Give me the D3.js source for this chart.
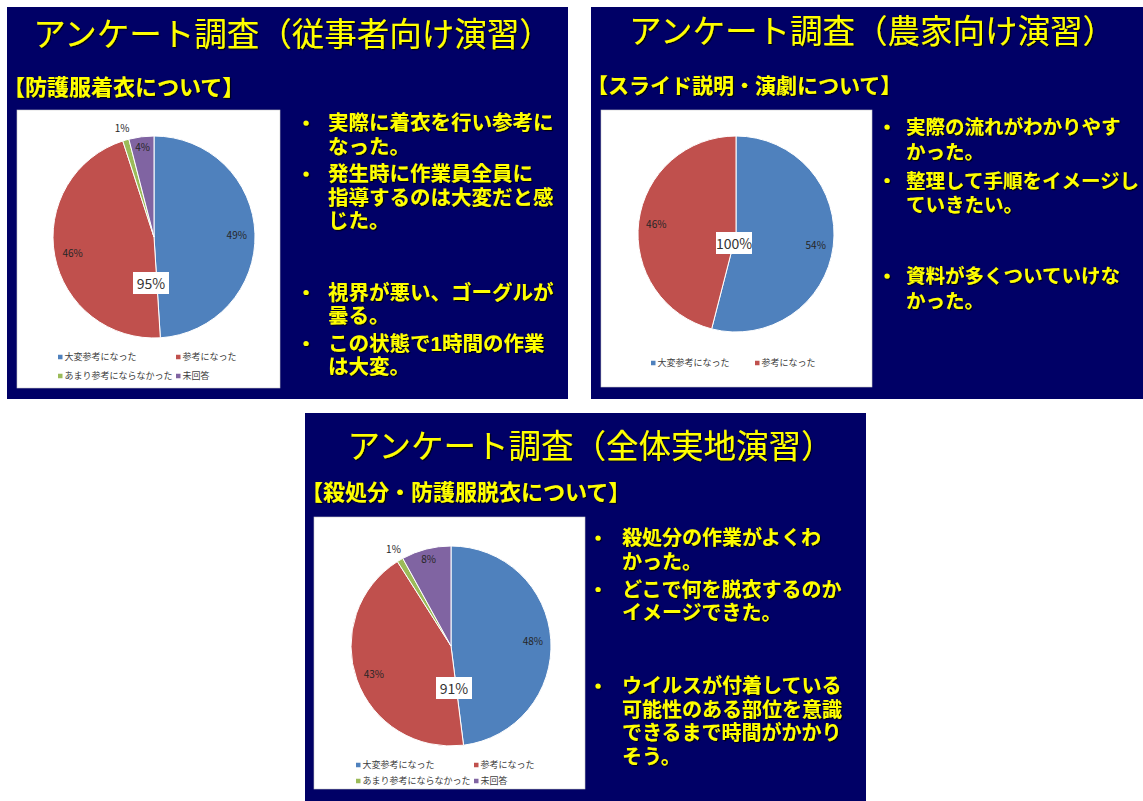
<!DOCTYPE html>
<html>
<head>
<meta charset="utf-8">
<script src="https://cdn.jsdelivr.net/npm/d3@7"></script>
<style>
  html, body { margin: 0; padding: 0; background: #ffffff; }
  svg { display: block; }
  text { font-family: "Noto Sans CJK JP", "Noto Sans", sans-serif; }
  /* Latin primary font keeps the line boxes compact; Japanese glyphs fall back to Noto CJK */
  text.notes, text.legend-label { font-family: "Liberation Sans", "Noto Sans CJK JP", sans-serif; }
</style>
</head>
<body>
<svg id="chart" width="1143" height="801"></svg>
<script>
// ---- survey data ----
const categories = ["大変参考になった", "参考になった", "あまり参考にならなかった", "未回答"];
const workerValues = [49, 46, 1, 4];   // 従事者向け演習
const farmerValues = [54, 46];         // 農家向け演習
const fieldValues  = [48, 43, 1, 8];   // 全体実地演習
const sliceColors  = ["#4F81BD", "#C0504D", "#9BBB59", "#8064A2"];

const panelTitles = [
  "アンケート調査（従事者向け演習）",
  "アンケート調査（農家向け演習）",
  "アンケート調査（全体実地演習）"
];
const panelTopics = [
  "【防護服着衣について】",
  "【スライド説明・演劇について】",
  "【殺処分・防護服脱衣について】"
];
// each inner array is one bullet; an empty array is a blank paragraph
const workerComments = [
  ["実際に着衣を行い参考に", "なった。"],
  ["発生時に作業員全員に", "指導するのは大変だと感", "じた。"],
  [],
  ["視界が悪い、ゴーグルが", "曇る。"],
  ["この状態で1時間の作業", "は大変。"]
];
const farmerComments = [
  ["実際の流れがわかりやす", "かった。"],
  ["整理して手順をイメージし", "ていきたい。"],
  [],
  ["資料が多くついていけな", "かった。"]
];
const fieldComments = [
  ["殺処分の作業がよくわ", "かった。"],
  ["どこで何を脱衣するのか", "イメージできた。"],
  [],
  ["ウイルスが付着している", "可能性のある部位を意識", "できるまで時間がかかり", "そう。"]
];

// ---- layout ----
const panels = [
  {
    title: panelTitles[0], topic: panelTopics[0], values: workerValues, comments: workerComments,
    x: 7, y: 7, w: 561, h: 392, titleY: 39, topicX: -4, topicY: 88, topicSize: 22,
    box: { x: 17, y: 110, w: 263, h: 278 },
    pie: { cx: 154, cy: 237, r: 101 },
    total: { dx: -3, dy: 46 },
    legend: { cols: [-96, 22], rows: [120, 139] },
    notes: { bulletX: 306, textX: 328, y: 130, lh: 23.5, gap: 27.5, blank: 44, size: 20.5 }
  },
  {
    title: panelTitles[1], topic: panelTopics[1], values: farmerValues, comments: farmerComments,
    x: 591, y: 7, w: 552, h: 392, titleY: 36, topicX: -4, topicY: 86, topicSize: 21,
    box: { x: 601, y: 110, w: 271, h: 277 },
    pie: { cx: 736, cy: 234, r: 98 },
    total: { dx: -2, dy: 9 },
    legend: { cols: [-85, 19], rows: [129] },
    notes: { bulletX: 887, textX: 906, y: 134, lh: 24.5, gap: 29, blank: 42, size: 19.5 }
  },
  {
    title: panelTitles[2], topic: panelTopics[2], values: fieldValues, comments: fieldComments,
    x: 305, y: 413, w: 561, h: 388, titleY: 45, topicX: -4, topicY: 87, topicSize: 22,
    box: { x: 314, y: 517, w: 271, h: 272 },
    pie: { cx: 451, cy: 646, r: 100 },
    total: { dx: 3, dy: 42 },
    legend: { cols: [-95, 23], rows: [119, 135] },
    notes: { bulletX: 598, textX: 622, y: 545, lh: 23.5, gap: 28, blank: 45, size: 20 }
  }
];

const NAVY = "#000066";
const YELLOW = "#FFFF00";

const svg = d3.select("#chart");
const defs = svg.append("defs");
defs.append("filter")
  .attr("id", "shadow")
  .attr("x", "-5%").attr("y", "-20%").attr("width", "115%").attr("height", "150%")
  .append("feDropShadow")
  .attr("dx", 1.2).attr("dy", 1.2).attr("stdDeviation", 0.6)
  .attr("flood-color", "#000000").attr("flood-opacity", 0.85);

const color = d3.scaleOrdinal().domain(categories).range(sliceColors);
const pie = d3.pie().sort(null).value(d => d.value);

// label distance as a fraction of the radius, by slice size
function labelRadius(v) {
  if (v < 3) return 1.13;
  if (v < 10) return 0.9;
  return 0.82;
}

panels.forEach(p => {
  const g = svg.append("g");

  // slide background
  g.append("rect")
    .attr("x", p.x).attr("y", p.y).attr("width", p.w).attr("height", p.h)
    .attr("fill", NAVY);

  // title and topic
  g.append("text")
    .attr("x", p.x + p.w / 2 + 5).attr("y", p.y + p.titleY)
    .attr("text-anchor", "middle")
    .attr("font-size", 32.5)
    .attr("fill", YELLOW)
    .attr("filter", "url(#shadow)")
    .text(p.title);

  g.append("text")
    .attr("x", p.x + p.topicX).attr("y", p.y + p.topicY)
    .attr("font-size", p.topicSize).attr("font-weight", "bold")
    .attr("fill", YELLOW)
    .attr("filter", "url(#shadow)")
    .text(p.topic);

  // chart area
  g.append("rect")
    .attr("x", p.box.x).attr("y", p.box.y).attr("width", p.box.w).attr("height", p.box.h)
    .attr("fill", "#ffffff").attr("stroke", "#c8c8c8").attr("stroke-width", 0.6);

  const rows = p.values.map((v, i) => ({ category: categories[i], value: v }));
  const arcs = pie(rows);
  const arc = d3.arc().innerRadius(0).outerRadius(p.pie.r);
  const pg = g.append("g").attr("transform", `translate(${p.pie.cx},${p.pie.cy})`);

  pg.selectAll("path.slice")
    .data(arcs)
    .join("path")
    .attr("class", "slice")
    .attr("d", arc)
    .attr("fill", d => color(d.data.category))
    .attr("stroke", "#ffffff")
    .attr("stroke-width", 1);

  // percentage labels
  pg.selectAll("text.val")
    .data(arcs)
    .join("text")
    .attr("class", "val")
    .attr("transform", d => {
      const k = labelRadius(d.data.value);
      const c = d3.arc().innerRadius(p.pie.r * k).outerRadius(p.pie.r * k).centroid(d);
      return `translate(${c[0]},${c[1]})`;
    })
    .attr("text-anchor", "middle")
    .attr("dominant-baseline", "central")
    .attr("font-family", "'Liberation Sans', 'Noto Sans', sans-serif")
    .attr("font-size", 10)
    .attr("fill", "#262626")
    .text(d => d.data.value + "%");

  // combined "useful" share
  const total = p.values[0] + p.values[1];
  const tg = pg.append("g").attr("transform", `translate(${p.total.dx},${p.total.dy})`);
  tg.append("rect")
    .attr("x", -18).attr("y", -11).attr("width", 36).attr("height", 22)
    .attr("fill", "#ffffff");
  tg.append("text")
    .attr("text-anchor", "middle")
    .attr("dominant-baseline", "central")
    .attr("font-family", "'Noto Sans', sans-serif")
    .attr("font-size", 14)
    .attr("fill", "#333333")
    .text(total + "%");

  // legend
  const lg = pg.append("g");
  const items = lg.selectAll("g.item")
    .data(rows)
    .join("g")
    .attr("class", "item")
    .attr("transform", (d, i) => {
      const col = i % p.legend.cols.length;
      const row = Math.floor(i / p.legend.cols.length);
      return `translate(${p.legend.cols[col]},${p.legend.rows[row]})`;
    });
  items.append("rect")
    .attr("x", 0).attr("y", -2.25).attr("width", 4.5).attr("height", 4.5)
    .attr("fill", d => color(d.category));
  items.append("text")
    .attr("class", "legend-label")
    .attr("x", 6.5).attr("y", 0)
    .attr("dominant-baseline", "central")
    .attr("font-size", 9)
    .attr("fill", "#404040")
    .text(d => d.category);

  // bullet comments: one text block per panel, one tspan per line
  const ng = g.append("g")
    .attr("fill", YELLOW)
    .attr("filter", "url(#shadow)");
  const block = ng.append("text")
    .attr("class", "notes")
    .attr("font-weight", "bold")
    .attr("font-size", p.notes.size);
  let y = p.notes.y;
  p.comments.forEach(para => {
    if (para.length === 0) { y += p.notes.blank; return; }
    ng.append("circle")
      .attr("cx", p.notes.bulletX).attr("cy", y - 7)
      .attr("r", 2.6);
    para.forEach((line, li) => {
      block.append("tspan")
        .attr("x", p.notes.textX).attr("y", y)
        .text(line);
      if (li < para.length - 1) y += p.notes.lh;
    });
    y += p.notes.gap;
  });
});
</script>
</body>
</html>
